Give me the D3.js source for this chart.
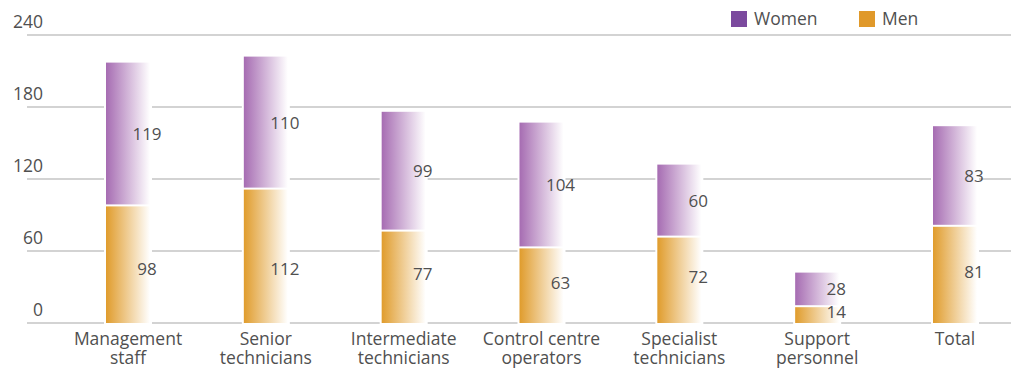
<!DOCTYPE html>
<html><head><meta charset="utf-8">
<script src="https://cdn.jsdelivr.net/npm/d3@7"></script>
<style>body{margin:0;background:#fff}svg{display:block}</style>
</head><body>
<svg id="c" width="1017" height="369"></svg>
<script>
const categories = [["Management","staff"],["Senior","technicians"],["Intermediate","technicians"],["Control centre","operators"],["Specialist","technicians"],["Support","personnel"],["Total"]];
const men   = [98, 112, 77, 63, 72, 14, 81];
const women = [119, 110, 99, 104, 60, 28, 83];
const yTicks = [0, 60, 120, 180, 240];
const seriesNames = ["Women", "Men"];

const W = 1017, H = 369;
const svg = d3.select("#c");
const font = "'Open Sans', Roboto, sans-serif";
const txt = "#505050";
const fs = 17.5;

const keys = categories.map(c => c.join(" "));
const x = d3.scalePoint().domain(keys).range([128, 955]);
const bw = 44;
const y = d3.scaleLinear().domain([0, 240]).range([323, 35]);

const defs = svg.append("defs");
function grad(id, c) {
  const g = defs.append("linearGradient").attr("id", id).attr("x1", "0%").attr("x2", "100%").attr("y1", "0%").attr("y2", "0%");
  g.append("stop").attr("offset", "0%").attr("stop-color", c);
  g.append("stop").attr("offset", "100%").attr("stop-color", "#ffffff");
}
grad("gW", "#a66cb2");
grad("gM", "#e09c2c");

// grid
const grid = svg.append("g");
yTicks.forEach(t => {
  grid.append("line").attr("x1", 27).attr("x2", 1011).attr("y1", y(t)).attr("y2", y(t))
    .attr("stroke", "#c4c4c4").attr("stroke-width", 1.3);
  grid.append("text").attr("x", 43).attr("y", y(t) - 7).attr("text-anchor", "end")
    .attr("font-family", font).attr("font-size", fs).attr("fill", txt).text(t);
});

// bars
const g = svg.append("g");
keys.forEach((k, i) => {
  const cx = x(k), x0 = cx - bw / 2;
  const total = men[i] + women[i];
  g.append("rect").attr("x", x0 - 2).attr("width", bw + 4)
    .attr("y", y(total) - 1).attr("height", y(0) - y(total) + 3).attr("fill", "#fff");
  g.append("rect").attr("x", x0).attr("width", bw)
    .attr("y", y(men[i]) + 1).attr("height", y(0) - y(men[i]) - 1).attr("fill", "url(#gM)");
  g.append("rect").attr("x", x0).attr("width", bw)
    .attr("y", y(total)).attr("height", y(men[i]) - y(total) - 1).attr("fill", "url(#gW)");
});

// value labels
keys.forEach((k, i) => {
  const cx = x(k) + 19;
  const mv = Math.min(45, men[i] / 2 + 2);
  const wv = men[i] + women[i] / 2;
  g.append("text").attr("x", cx).attr("y", y(mv)).attr("dy", "0.35em").attr("text-anchor", "middle")
    .attr("font-family", font).attr("font-size", 17).attr("fill", txt).text(men[i]);
  g.append("text").attr("x", cx).attr("y", y(wv)).attr("dy", "0.35em").attr("text-anchor", "middle")
    .attr("font-family", font).attr("font-size", 17).attr("fill", txt).text(women[i]);
});

// category labels
keys.forEach((k, i) => {
  categories[i].forEach((line, j) => svg.append("text").attr("x", x(k)).attr("y", 345 + j * 19)
    .attr("text-anchor", "middle").attr("font-family", font).attr("font-size", fs).attr("fill", txt).text(line));
});

// legend
const lg = svg.append("g");
const legendColors = ["#7b4a9e", "#e0992a"];
const legendX = [731, 859];
seriesNames.forEach((n, i) => {
  lg.append("rect").attr("x", legendX[i]).attr("y", 11).attr("width", 16).attr("height", 16).attr("fill", legendColors[i]);
  lg.append("text").attr("x", legendX[i] + 23).attr("y", 25).attr("font-family", font).attr("font-size", fs)
    .attr("fill", txt).text(n);
});
</script>
</body></html>
